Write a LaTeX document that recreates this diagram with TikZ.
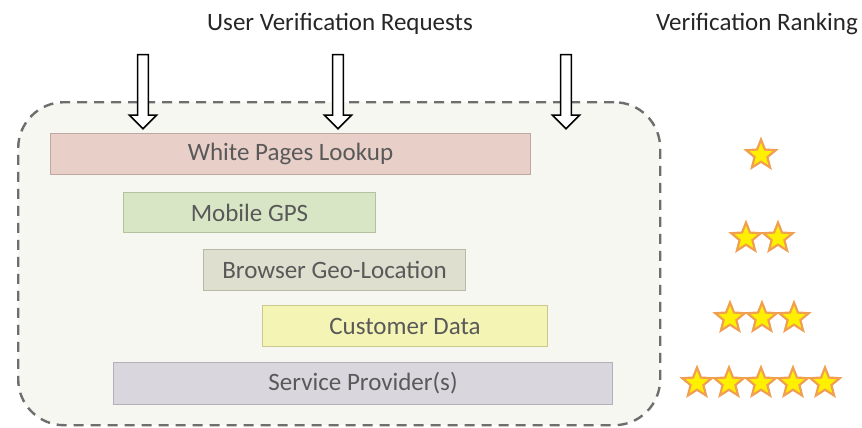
\documentclass[tikz,border=0pt]{standalone}
\usepackage{fontspec}
\setmainfont{Carlito}
\usetikzlibrary{shapes.geometric,shapes.arrows}
\definecolor{txt}{HTML}{595959}
\definecolor{contfill}{HTML}{F6F7F0}
\definecolor{contline}{HTML}{6E6E6E}
\definecolor{pinkf}{HTML}{E8D0C8}\definecolor{pinkd}{HTML}{BFA89F}
\definecolor{greenf}{HTML}{D9E6C6}\definecolor{greend}{HTML}{B4C2A0}
\definecolor{grayf}{HTML}{DEDFCE}\definecolor{grayd}{HTML}{B8B9A6}
\definecolor{yellf}{HTML}{F4F4B4}\definecolor{yelld}{HTML}{C9C98E}
\definecolor{lavf}{HTML}{D9D6DE}\definecolor{lavd}{HTML}{B4B0BA}
\definecolor{starline}{HTML}{F0A050}
\definecolor{starfill}{HTML}{FFF000}
\tikzset{
  layer/.style={draw=#1, line width=1pt, anchor=north west, inner sep=0pt,
    text=txt, font=\fontsize{25}{28}\selectfont},
  title/.style={text=black!85, font=\fontsize{25}{28}\selectfont},
  rankstar/.style={star, star points=5, star point ratio=2.3, minimum size=31pt,
    inner sep=0pt, draw=starline, fill=starfill, line width=2.2pt},
  reqarrow/.style={single arrow, draw=black, fill=white, line width=1.6pt,
    minimum width=27pt, single arrow head extend=6.5pt, single arrow head indent=0pt,
    minimum height=74pt, shape border rotate=270, inner sep=0pt, text width=7pt}
}
\begin{document}
\begin{tikzpicture}[x=1pt,y=-1pt]
\useasboundingbox (0,0) rectangle (862,428);
% container
\node[draw=contline, fill=contfill, line width=2.4pt, dash pattern=on 10pt off 7pt,
  rounded corners=46pt, anchor=north west, minimum width=642pt, minimum height=323pt,
  inner sep=0pt] (cont) at (17,101) {};
% titles
\node[title] (t1) at (340,24) {User Verification Requests};
\node[title] (t2) at (757,24) {Verification Ranking};
% layers
\node[layer=pinkd, fill=pinkf, minimum width=480pt, minimum height=41pt] (wp) at (50,133) {White Pages Lookup};
\node[layer=greend, fill=greenf, minimum width=252pt, minimum height=40pt] (gps) at (123,192) {Mobile GPS};
\node[layer=grayd, fill=grayf, minimum width=262pt, minimum height=41pt] (geo) at (203,249) {Browser Geo-Location};
\node[layer=yelld, fill=yellf, minimum width=285pt, minimum height=41pt] (cd) at (262,305) {Customer Data};
\node[layer=lavd, fill=lavf, minimum width=499pt, minimum height=42pt] (sp) at (113,362) {Service Provider(s)};
% request arrows
\node[reqarrow] (a1) at (143,89) {};
\node[reqarrow] (a2) at (338,89) {};
\node[reqarrow] (a3) at (566,89) {};
% stars
\node[rankstar] (s11) at (761,155) {};
\node[rankstar] (s21) at (746,238) {};
\node[rankstar] (s22) at (778,238) {};
\node[rankstar] (s31) at (730,318) {};
\node[rankstar] (s32) at (762,318) {};
\node[rankstar] (s33) at (794,318) {};
\node[rankstar] (s51) at (697,383) {};
\node[rankstar] (s52) at (729,383) {};
\node[rankstar] (s53) at (761,383) {};
\node[rankstar] (s54) at (793,383) {};
\node[rankstar] (s55) at (825,383) {};
\end{tikzpicture}
\end{document}
